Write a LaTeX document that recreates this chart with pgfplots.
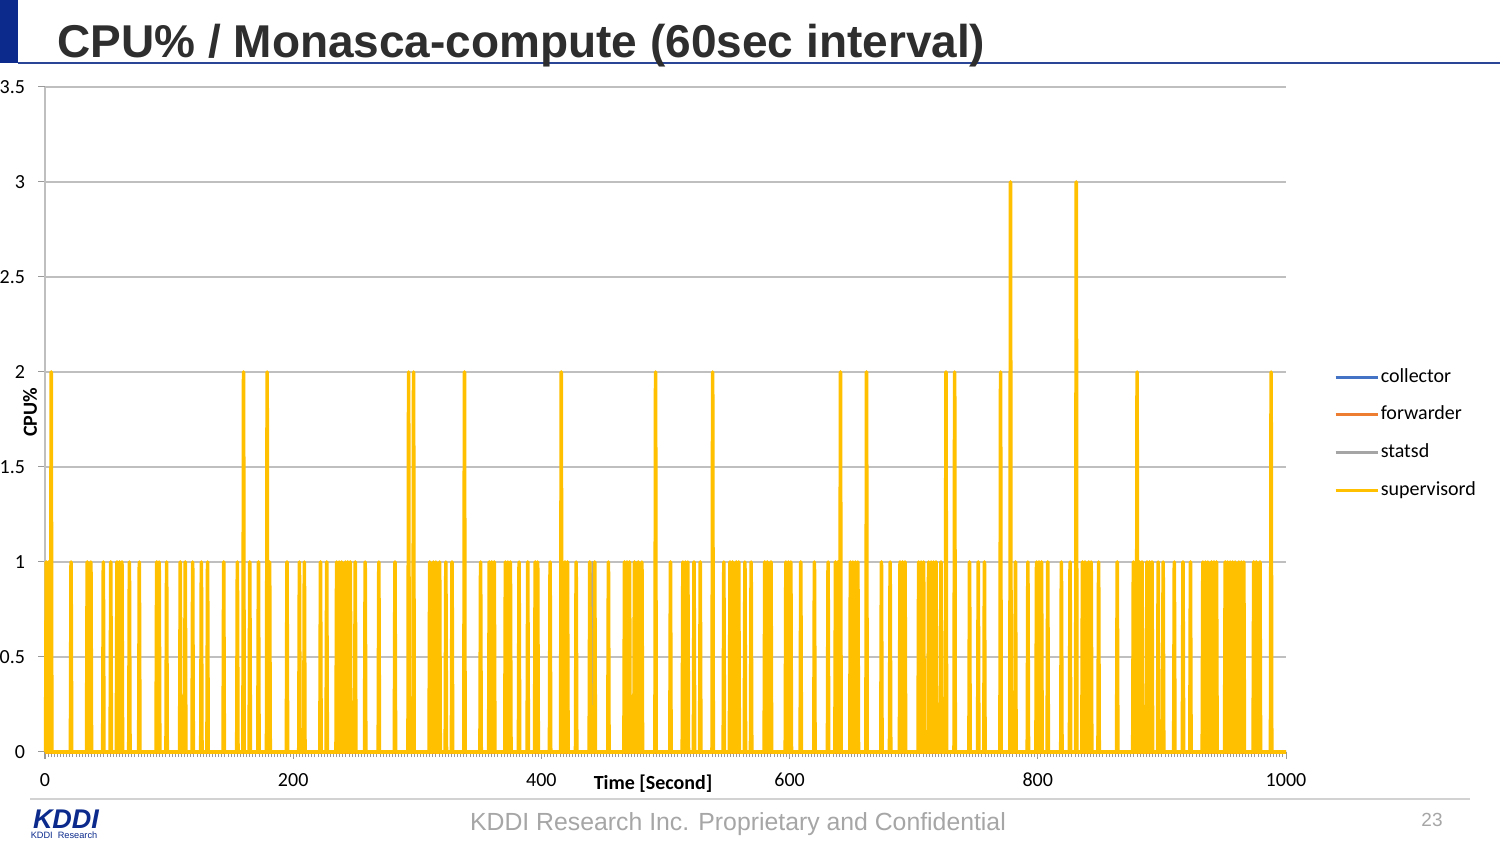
\documentclass[border=0pt]{standalone}
\usepackage{fontspec}
\setmainfont{Carlito}
\newfontfamily\arial{Liberation Sans}
\usepackage{pgfplots}
\pgfplotsset{compat=1.18}
\definecolor{kddiblue}{HTML}{0B2A8C}
\definecolor{kddiline}{HTML}{2A4596}
\definecolor{titlegray}{HTML}{2E2E2E}
\definecolor{cCollector}{HTML}{4472C4}
\definecolor{cForwarder}{HTML}{ED7D31}
\definecolor{cStatsd}{HTML}{A5A5A5}
\definecolor{cSuper}{HTML}{FFC000}
\definecolor{gridgray}{HTML}{BFBFBF}
\definecolor{footgray}{HTML}{A6A6A6}
\begin{document}
\begin{tikzpicture}
\fill[white] (0,0) rectangle (750pt,422pt);
\useasboundingbox (0,0) rectangle (750pt,422pt);
% header
\fill[kddiblue] (0,422pt) rectangle (9pt,390.5pt);
\draw[kddiline, line width=1pt] (9pt,390.5pt) -- (750pt,390.5pt);
\node[anchor=base west, inner sep=0pt, text=titlegray, font=\arial\bfseries\fontsize{23}{27}\selectfont] at (28.5pt,393pt) {CPU\% / Monasca-compute (60sec interval)};
% footer
\draw[gray!35, line width=0.75pt] (15pt,22.5pt) -- (735pt,22.5pt);
\node[text=footgray, font=\arial\fontsize{12.4}{14}\selectfont, inner sep=0pt] at (369pt,10pt) {KDDI Research Inc. Proprietary and Confidential};
\node[text=footgray, font=\arial\fontsize{9.5}{11}\selectfont, inner sep=0pt] at (716pt,12pt) {23};
\node[text=kddiblue, font=\arial\bfseries\itshape\fontsize{13.5}{15}\selectfont, inner sep=0pt] at (33pt,12.5pt) {KDDI};
\node[text=kddiblue, font=\arial\fontsize{4.6}{5}\selectfont, inner sep=0pt] at (32pt,4.5pt) {KDDI\ \ Research};
\begin{axis}[
  at={(22.5pt,46pt)}, anchor=south west,
  scale only axis, width=620.5pt, height=332.5pt,
  xmin=0, xmax=1000, ymin=0, ymax=3.5,
  clip=false,
  axis lines=left, axis line style={-, draw=gridgray, line width=0.7pt},
  xtick={0,200,...,1000}, ytick={0,0.5,...,3.5},
  minor xtick={0,2.5,...,1000},
  tick align=outside, major tick length=3.5pt, minor tick length=2.6pt,
  tick style={draw=gray!80, line width=0.5pt},
  minor tick style={draw=gray!80, line width=0.5pt},
  ymajorgrids, grid style={draw=gridgray, line width=0.75pt},
  /pgf/number format/assume math mode=true,
  /pgf/number format/1000 sep={},
  tick label style={font=\fontsize{10}{12}\selectfont},
  yticklabel style={xshift=-3pt},
  xticklabel style={yshift=-3.6pt},
  xlabel={\textbf{Time [Second]}},
  xlabel style={at={(axis description cs:0.49,0)}, anchor=center, yshift=-16pt, font=\fontsize{10}{12}\selectfont},
  ylabel={\textbf{CPU\%}},
  ylabel style={at={(axis description cs:-0.0121,0.511)}, anchor=center, font=\fontsize{10}{12}\selectfont},
  legend style={at={(1.0385,0.4785)}, anchor=west, draw=none, fill=none, inner sep=0pt,
    font=\fontsize{10}{12}\selectfont, row sep=7.7pt, column sep=0pt,
    nodes={inner sep=0.8pt, text height=7.3pt, text depth=2.3pt}},
  legend cell align=left,
  legend image code/.code={\draw[#1, line width=1.5pt] (0pt,0pt) -- (21pt,0pt);},
]
\addplot[cCollector, line width=1.8pt] coordinates {(0,0) (1000,0)};
\addlegendentry{collector}
\addplot[cForwarder, line width=1.8pt] coordinates {(0,0) (1000,0)};
\addlegendentry{forwarder}
\addplot[cStatsd, line width=1pt, line join=round] coordinates {(0,0) (440.5,0) (441,1) (441.5,0) (476.5,0) (477,1) (477.5,0) (1000,0)};
\addlegendentry{statsd}
\addplot[cSuper, line width=1.8pt, line join=round] coordinates {
(0,0)
(0.5,0) (1,1) (1.5,0)
(2.5,0) (3,1) (3.5,0)
(4.5,0) (5,2) (5.5,0)
(20.5,0) (21,1) (21.5,0)
(33.5,0) (34,1) (34.5,0)
(36.5,0) (37,1) (37.5,0)
(46.5,0) (47,1) (47.5,0)
(52.5,0) (53,1) (53.5,0)
(57.5,0) (58,1) (58.5,0)
(59.5,0) (60,1) (60.5,0)
(61.5,0) (62,1) (62.5,0)
(67.5,0) (68,1) (68.5,0)
(75.5,0) (76,1) (76.5,0)
(89.5,0) (90,1) (90.5,0)
(91.5,0) (92,1) (92.5,0)
(97.5,0) (98,1) (98.5,0)
(108.5,0) (109,1) (109.5,0)
(112.5,0) (113,1) (113.5,0)
(118.5,0) (119,1) (119.5,0)
(125.5,0) (126,1) (126.5,0)
(130.5,0) (131,1) (131.5,0)
(143.5,0) (144,1) (144.5,0)
(154.5,0) (155,1) (155.5,0)
(159.5,0) (160,2) (160.5,0)
(164.5,0) (165,1) (165.5,0)
(171.5,0) (172,1) (172.5,0)
(178.5,0) (179,2) (179.5,0)
(180.5,0) (181,1) (181.5,0)
(194.5,0) (195,1) (195.5,0)
(204.5,0) (205,1) (205.5,0)
(208.5,0) (209,1) (209.5,0)
(221.5,0) (222,1) (222.5,0)
(226.5,0) (227,1) (227.5,0)
(234.5,0) (235,1) (235.5,0)
(236.5,0) (237,1) (237.5,0)
(238.5,0) (239,1) (239.5,0)
(241.5,0) (242,1) (242.5,0)
(243.5,0) (244,1) (244.5,0)
(245.5,0) (246,1) (246.5,0)
(249.5,0) (250,1) (250.5,0)
(257.5,0) (258,1) (258.5,0)
(268.5,0) (269,1) (269.5,0)
(281.5,0) (282,1) (282.5,0)
(292.5,0) (293,2) (293.5,0)
(296.5,0) (297,2) (297.5,0)
(309.5,0) (310,1) (310.5,0)
(312.5,0) (313,1) (313.5,0)
(314.5,0) (315,1) (315.5,0)
(317.5,0) (318,1) (318.5,0)
(322.5,0) (323,1) (323.5,0)
(327.5,0) (328,1) (328.5,0)
(337.5,0) (338,2) (338.5,0)
(350.5,0) (351,1) (351.5,0)
(357.5,0) (358,1) (358.5,0)
(359.5,0) (360,1) (360.5,0)
(361.5,0) (362,1) (362.5,0)
(370.5,0) (371,1) (371.5,0)
(372.5,0) (373,1) (373.5,0)
(374.5,0) (375,1) (375.5,0)
(381.5,0) (382,1) (382.5,0)
(388.5,0) (389,1) (389.5,0)
(394.5,0) (395,1) (395.5,0)
(396.5,0) (397,1) (397.5,0)
(406.5,0) (407,1) (407.5,0)
(415.5,0) (416,2) (416.5,0)
(418.5,0) (419,1) (419.5,0)
(420.5,0) (421,1) (421.5,0)
(427.5,0) (428,1) (428.5,0)
(438.5,0) (439,1) (439.5,0)
(442.5,0) (443,1) (443.5,0)
(453.5,0) (454,1) (454.5,0)
(466.5,0) (467,1) (467.5,0)
(468.5,0) (469,1) (469.5,0)
(470.5,0) (471,1) (471.5,0)
(474.5,0) (475,1) (475.5,0)
(477.5,0) (478,1) (478.5,0)
(480.5,0) (481,1) (481.5,0)
(491.5,0) (492,2) (492.5,0)
(503.5,0) (504,1) (504.5,0)
(513.5,0) (514,1) (514.5,0)
(515.5,0) (516,1) (516.5,0)
(517.5,0) (518,1) (518.5,0)
(522.5,0) (523,1) (523.5,0)
(527.5,0) (528,1) (528.5,0)
(537.5,0) (538,2) (538.5,0)
(546.5,0) (547,1) (547.5,0)
(551.5,0) (552,1) (552.5,0)
(553.5,0) (554,1) (554.5,0)
(556.5,0) (557,1) (557.5,0)
(558.5,0) (559,1) (559.5,0)
(563.5,0) (564,1) (564.5,0)
(568.5,0) (569,1) (569.5,0)
(579.5,0) (580,1) (580.5,0)
(581.5,0) (582,1) (582.5,0)
(584.5,0) (585,1) (585.5,0)
(596.5,0) (597,1) (597.5,0)
(598.5,0) (599,1) (599.5,0)
(600.5,0) (601,1) (601.5,0)
(608.5,0) (609,1) (609.5,0)
(619.5,0) (620,1) (620.5,0)
(630.5,0) (631,1) (631.5,0)
(636.5,0) (637,1) (637.5,0)
(638.5,0) (639,1) (639.5,0)
(640.5,0) (641,2) (641.5,0)
(648.5,0) (649,1) (649.5,0)
(650.5,0) (651,1) (651.5,0)
(652.5,0) (653,1) (653.5,0)
(654.5,0) (655,1) (655.5,0)
(661.5,0) (662,2) (662.5,0)
(673.5,0) (674,1) (674.5,0)
(680.5,0) (681,1) (681.5,0)
(688.5,0) (689,1) (689.5,0)
(690.5,0) (691,1) (691.5,0)
(692.5,0) (693,1) (693.5,0)
(703.5,0) (704,1) (704.5,0)
(705.5,0) (706,1) (706.5,0)
(707.5,0) (708,1) (708.5,0)
(711.5,0) (712,1) (712.5,0)
(713.5,0) (714,1) (714.5,0)
(715.5,0) (716,1) (716.5,0)
(717.5,0) (718,1) (718.5,0)
(721.5,0) (722,1) (722.5,0)
(725.5,0) (726,2) (726.5,0)
(732.5,0) (733,2) (733.5,0)
(744.5,0) (745,1) (745.5,0)
(751.5,0) (752,1) (752.5,0)
(756.5,0) (757,1) (757.5,0)
(769.5,0) (770,2) (770.5,0)
(777.5,0) (778,3) (778.5,0)
(781.5,0) (782,1) (782.5,0)
(791.5,0) (792,1) (792.5,0)
(798.5,0) (799,1) (799.5,0)
(800.5,0) (801,1) (801.5,0)
(802.5,0) (803,1) (803.5,0)
(807.5,0) (808,1) (808.5,0)
(818.5,0) (819,1) (819.5,0)
(825.5,0) (826,1) (826.5,0)
(830.5,0) (831,3) (831.5,0)
(835.5,0) (836,1) (836.5,0)
(837.5,0) (838,1) (838.5,0)
(840.5,0) (841,1) (841.5,0)
(842.5,0) (843,1) (843.5,0)
(848.5,0) (849,1) (849.5,0)
(863.5,0) (864,1) (864.5,0)
(876.5,0) (877,1) (877.5,0)
(879.5,0) (880,2) (880.5,0)
(881.5,0) (882,1) (882.5,0)
(883.5,0) (884,1) (884.5,0)
(887.5,0) (888,1) (888.5,0)
(889.5,0) (890,1) (890.5,0)
(891.5,0) (892,1) (892.5,0)
(896.5,0) (897,1) (897.5,0)
(900.5,0) (901,1) (901.5,0)
(909.5,0) (910,1) (910.5,0)
(916.5,0) (917,1) (917.5,0)
(922.5,0) (923,1) (923.5,0)
(932.5,0) (933,1) (933.5,0)
(934.5,0) (935,1) (935.5,0)
(936.5,0) (937,1) (937.5,0)
(939.5,0) (940,1) (940.5,0)
(941.5,0) (942,1) (942.5,0)
(943.5,0) (944,1) (944.5,0)
(950.5,0) (951,1) (951.5,0)
(952.5,0) (953,1) (953.5,0)
(954.5,0) (955,1) (955.5,0)
(956.5,0) (957,1) (957.5,0)
(958.5,0) (959,1) (959.5,0)
(961.5,0) (962,1) (962.5,0)
(963.5,0) (964,1) (964.5,0)
(965.5,0) (966,1) (966.5,0)
(973.5,0) (974,1) (974.5,0)
(975.5,0) (976,1) (976.5,0)
(978.5,0) (979,1) (979.5,0)
(987.5,0) (988,2) (988.5,0)
(1000,0)
};
\addlegendentry{supervisord}
\end{axis}
\end{tikzpicture}
\end{document}
